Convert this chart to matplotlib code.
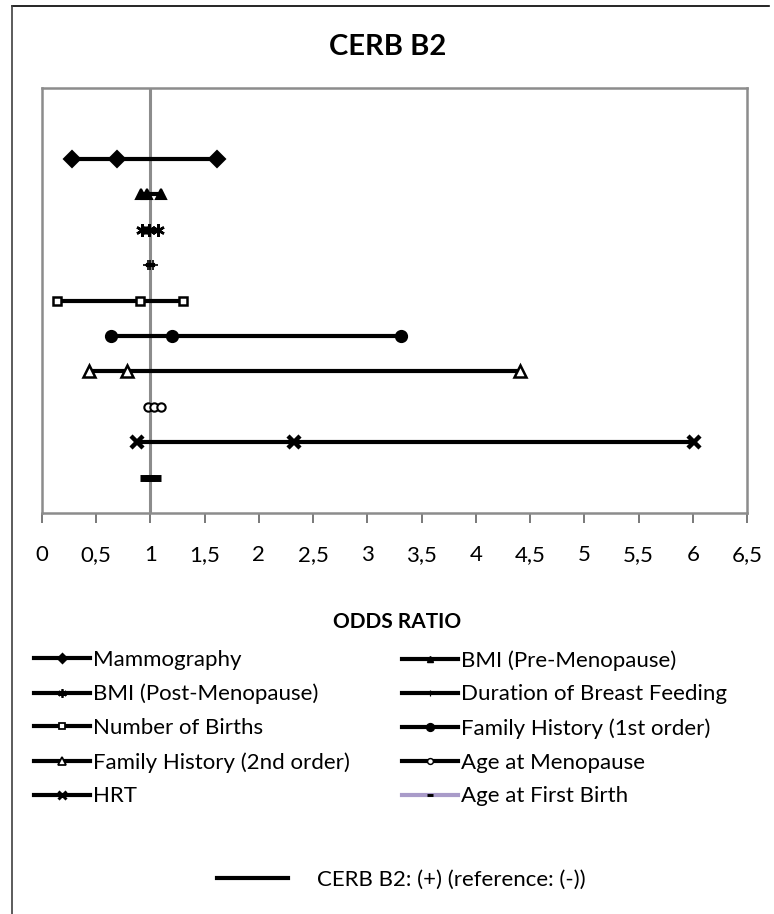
import numpy as np
import matplotlib.pyplot as plt
from matplotlib.lines import Line2D

plt.rcParams['font.family'] = ['Lato', 'DejaVu Sans']

# data: odds ratio low / point / high for each factor (top to bottom)
factors = ['Mammography', 'BMI (Pre-Menopause)', 'BMI (Post-Menopause)',
           'Duration of Breast Feeding', 'Number of Births',
           'Family History (1st order)', 'Family History (2nd order)',
           'Age at Menopause', 'HRT', 'Age at First Birth']
or_low = [0.28, 0.91, 0.92, 0.98, 0.14, 0.64, 0.43, 0.98, 0.88, 0.95]
or_mid = [0.69, 0.97, 0.99, 1.00, 0.90, 1.20, 0.78, 1.03, 2.32, 1.00]
or_high = [1.61, 1.10, 1.07, 1.02, 1.30, 3.31, 4.41, 1.10, 6.01, 1.05]
rows = [10, 9, 8, 7, 6, 5, 4, 3, 2, 1]
xtick_labels = ['0', '0,5', '1', '1,5', '2', '2,5', '3', '3,5', '4', '4,5', '5', '5,5', '6', '6,5']

# marker style per series (excel-like)
markers = ['D', '^', (6, 2, 0), '+', 's', 'o', '^', 'o', 'x', '_']
fills = ['black', 'black', 'black', 'black', 'white', 'black', 'white', 'white', 'black', 'black']
msizes = [8, 7, 9, 7, 6, 8, 8, 6, 9, 7]
mews = [1.5, 1.5, 1.8, 1.2, 1.8, 1.5, 1.8, 1.5, 3.2, 5]
line_cols = ['black'] * 9 + ['#a99bc9']

fig = plt.figure(figsize=(7.74, 9.14), dpi=100)
W, H = 774, 914
ax = fig.add_axes([42 / W, 1 - 513 / H, 705 / W, 425 / H])

# reference line at OR = 1
ax.axvline(1, color='#8c8c8c', lw=2.2, zorder=1)

handles = []
for i in range(len(factors)):
    xs = [or_low[i], or_mid[i], or_high[i]]
    ys = [rows[i]] * 3
    ax.plot(xs, ys, color='black', lw=3, zorder=2)
    ax.plot(xs, ys, ls='none', marker=markers[i], ms=msizes[i],
            mfc=fills[i], mec='black', mew=mews[i], zorder=3)
    h = Line2D([], [], color=line_cols[i], lw=3, marker=markers[i],
               ms=msizes[i] * 0.7, mfc=fills[i], mec='black', mew=min(mews[i], 3) * 0.7)
    handles.append(h)

ax.set_xlim(0, 6.5)
ax.set_ylim(0, 12)
ax.set_xticks(np.arange(0, 6.51, 0.5))
ax.set_xticklabels(xtick_labels, fontsize=16)
ax.set_yticks([])
for s in ax.spines.values():
    s.set_color('#8c8c8c')
    s.set_linewidth(1.8)
ax.tick_params(axis='x', direction='out', length=7, width=1.3, color='#6e6e6e', pad=16)

fig.text(388 / W, 1 - 47 / H, 'CERB B2', ha='center', va='center',
         fontsize=21, fontweight='bold')
fig.text(397 / W, 1 - 622 / H, 'ODDS RATIO', ha='center', va='center',
         fontsize=15, fontweight='bold')

# legend in two columns, row-wise order
left_idx = [0, 2, 4, 6, 8]
right_idx = [1, 3, 5, 7, 9]
leg_kw = dict(loc='upper left', frameon=False, fontsize=16, handlelength=2.5,
              handletextpad=0.15, labelspacing=0.62, borderaxespad=0, borderpad=0)
fig.legend([handles[i] for i in left_idx], [factors[i] for i in left_idx],
           bbox_to_anchor=(34 / W, 1 - 650 / H), **leg_kw)
fig.legend([handles[i] for i in right_idx], [factors[i] for i in right_idx],
           bbox_to_anchor=(402 / W, 1 - 650 / H), **leg_kw)

fig.legend([Line2D([], [], color='black', lw=3)], ['CERB B2: (+) (reference: (-))'],
           loc='center left', bbox_to_anchor=(217 / W, 1 - 880 / H), frameon=False,
           fontsize=16, handlelength=3.2, handletextpad=1.3, borderaxespad=0, borderpad=0)

# chart frame (left and top edge visible)
fig.add_artist(Line2D([12 / W, 769 / W], [1 - 6 / H, 1 - 6 / H], color='black', lw=1.2))
fig.add_artist(Line2D([12 / W, 12 / W], [1 - 6 / H, 0], color='#404040', lw=1.2))

fig.savefig('out.png', dpi=100)
